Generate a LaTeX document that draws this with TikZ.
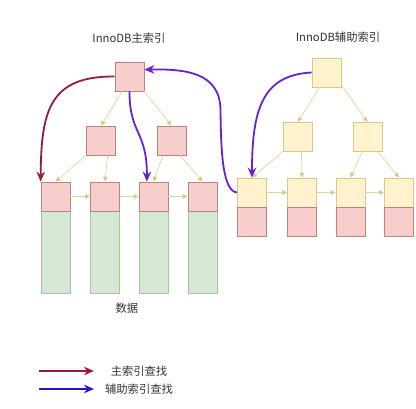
\documentclass[tikz,border=0pt]{standalone}
\usepackage{fontspec}
\setmainfont{Noto Sans CJK SC}
\usetikzlibrary{arrows.meta}
\definecolor{pinkfill}{HTML}{F8CECC}
\definecolor{pinkline}{HTML}{C0807C}
\definecolor{yellowfill}{HTML}{FFF2CC}
\definecolor{yellowline}{HTML}{D6C98A}
\definecolor{greenfill}{HTML}{D5E8D4}
\definecolor{greenline}{HTML}{A7C79A}
\definecolor{edgeline}{HTML}{DDD59A}
\definecolor{edgetip}{HTML}{D2BE6A}
\definecolor{primred}{HTML}{971B3E}
\definecolor{secpurple}{HTML}{6A22D0}
\definecolor{legblue}{HTML}{2418C8}
\tikzset{
  box/.style={draw, line width=0.7pt, inner sep=0pt, minimum width=29pt, minimum height=29pt},
  pinkbox/.style={box, draw=pinkline, fill=pinkfill},
  yellowbox/.style={box, draw=yellowline, fill=yellowfill},
  databox/.style={box, draw=greenline, fill=greenfill, minimum height=83pt},
  treeedge/.style={draw=edgeline, line width=0.7pt, -{Triangle[width=5pt,length=5pt,fill=edgetip]}},
  findarrow/.style={line width=1.8pt, -{Stealth[length=10pt,width=8.5pt]}},
  label/.style={font=\fontsize{11.3}{13}\selectfont, text=black!80}
}

\begin{document}
\begin{tikzpicture}[x=1pt,y=-1pt]
			%%%%% START %%%%%
			\useasboundingbox (0,0) rectangle (416,409);
			
			% primary index
			\node[label] (ptitle) at (129,38) {InnoDB主索引};
			\node[pinkbox] (proot) at (129.5,76.5) {};
			\node[pinkbox] (pl) at (101,140.5) {};
			\node[pinkbox] (pr) at (171.5,140.5) {};
			\foreach \i/\x in {1/55.5,2/105,3/153.5,4/202.5} {
				\node[databox] (d\i) at (\x,251.5) {};
				\node[pinkbox] (p\i) at (\x,196.5) {};
			}
			\node[label] (pdata) at (127,308) {数据};
			
			\draw[treeedge] (proot.-116) -- (pl.north);
			\draw[treeedge] (proot.-45) -- (pr.north);
			\draw[treeedge] (pl.-135) -- (p1.north);
			\draw[treeedge] (pl.-66) -- (p2.north);
			\draw[treeedge] (pr.-120) -- (p3.north);
			\draw[treeedge] (pr.-60) -- (p4.north);
			\draw[treeedge] (p1) -- (p2);
			\draw[treeedge] (p2) -- (p3);
			\draw[treeedge] (p3) -- (p4);
			
			% secondary index
			\node[label] (stitle) at (338,37) {InnoDB辅助索引};
			\node[yellowbox] (sroot) at (326.5,72.5) {};
			\node[yellowbox] (sl) at (297.5,137) {};
			\node[yellowbox] (sr) at (367.5,137) {};
			\foreach \i/\x in {1/252,2/302,3/350.5,4/399} {
				\node[yellowbox] (s\i) at (\x,192.5) {};
				\node[pinkbox] (r\i) at (\x,221.5) {};
			}
			
			\draw[treeedge] (sroot.-115) -- (sl.north);
			\draw[treeedge] (sroot.-40) -- (sr.north);
			\draw[treeedge] (sl.-135) -- (s1.north);
			\draw[treeedge] (sl.-75) -- (s2.north);
			\draw[treeedge] (sr.-110) -- (s3.north);
			\draw[treeedge] (sr.-55) -- (s4.north);
			\draw[treeedge] (s1) -- (s2);
			\draw[treeedge] (s2) -- (s3);
			\draw[treeedge] (s3) -- (s4);
			
			% lookups
			\draw[findarrow, primred] (proot.west) .. controls (50,76) and (41,110) .. (p1.north west);
			\draw[findarrow, secpurple] (proot.south) .. controls (129.5,135) and (147,130) .. (p3.114);
			\draw[findarrow, secpurple] (sroot.west) .. controls (262,75) and (252,110) .. (s1.north);
			\draw[findarrow, secpurple] (s1.west) .. controls (221,192) and (221,140) .. (220.5,110)
				.. controls (220,72) and (185,69) .. (proot.25);
			
			% legend
			\coordinate (redfrom) at (39,371);
			\coordinate (redto) at (94,371);
			\coordinate (bluefrom) at (39,389);
			\coordinate (blueto) at (94,389);
			\draw[findarrow, primred] (redfrom) -- (redto);
			\draw[findarrow, legblue] (bluefrom) -- (blueto);
			\node[label] (redtext) at (139,371) {主索引查找};
			\node[label] (bluetext) at (139,389) {辅助索引查找};
			
			%%%%% END %%%%%
		\end{tikzpicture}
\end{document}
